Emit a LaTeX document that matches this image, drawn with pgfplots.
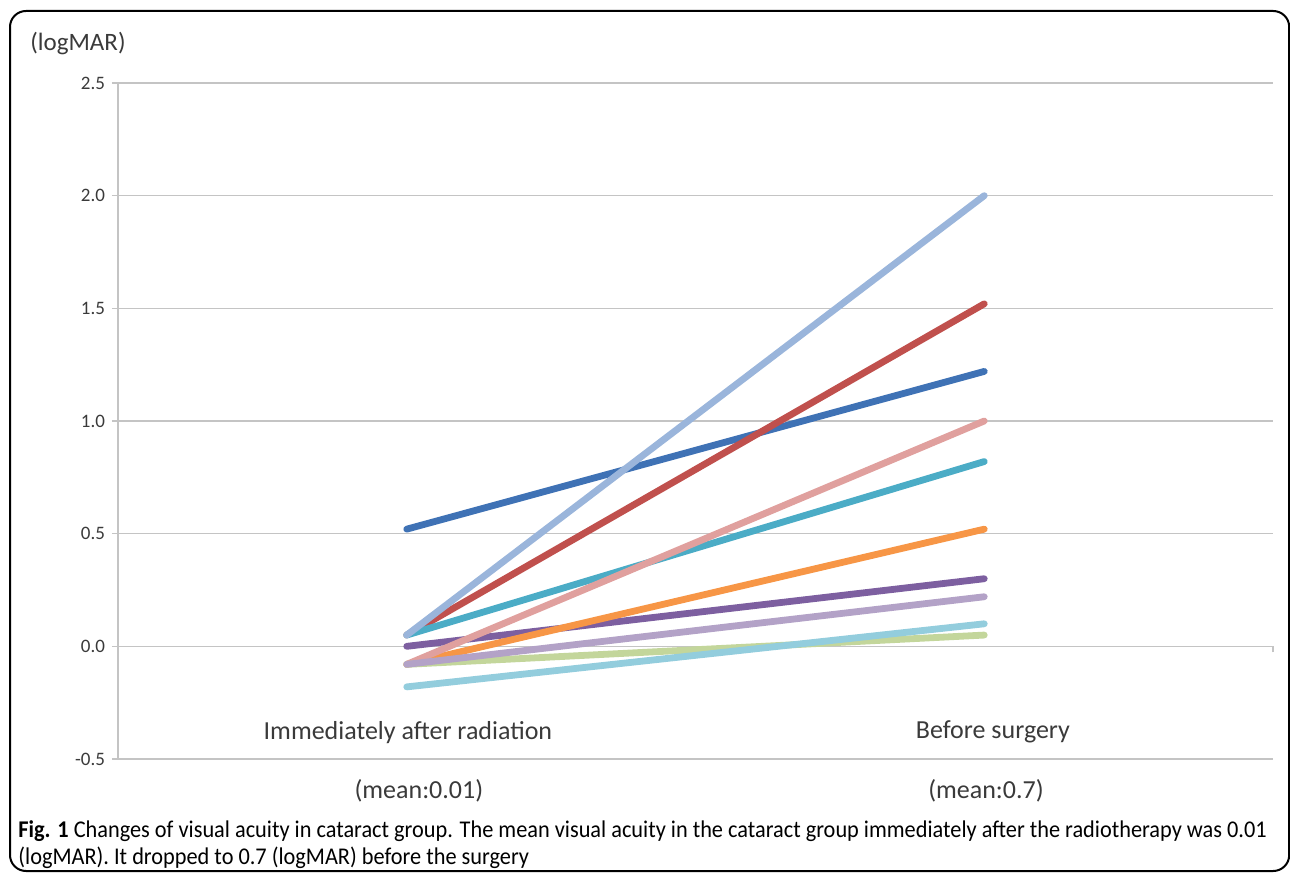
\documentclass[border=0pt]{standalone}
\usepackage{pgfplots}
\pgfplotsset{compat=1.18}
\usepackage{fontspec}
\setmainfont{Carlito}
\newfontfamily\capfont[FakeStretch=0.93]{Carlito}
\definecolor{cDarkBlue}{HTML}{3F72B5}
\definecolor{cRed}{HTML}{C0504D}
\definecolor{cPurple}{HTML}{7D5FA0}
\definecolor{cTeal}{HTML}{4BACC6}
\definecolor{cOrange}{HTML}{F79646}
\definecolor{cLightBlue}{HTML}{9AB5DB}
\definecolor{cPink}{HTML}{E0A09E}
\definecolor{cLavender}{HTML}{B3A2C7}
\definecolor{cCyan}{HTML}{93CDDD}
\definecolor{cGreen}{HTML}{C3D69B}
\definecolor{gridgray}{HTML}{C4C4C4}
\definecolor{labgray}{HTML}{3A3A3A}
\begin{document}
\begin{tikzpicture}[x=1pt,y=1pt]
\useasboundingbox (0,0) rectangle (645,436.5);
\draw[line width=1pt, rounded corners=8pt] (5,1) rectangle (644.6,431);
\node[font=\fontsize{12.5}{15}\selectfont, text=labgray] at (39,414.5) {(logMAR)};
\begin{axis}[
  at={(59pt,57pt)}, anchor=south west,
  scale only axis, width=577.5pt, height=338pt,
  xmin=0, xmax=4, ymin=-0.5, ymax=2.5,
  axis x line=middle, axis y line=left,
  axis line style={-, draw=gridgray, line width=0.7pt},
  every inner x axis line/.append style={-},
  every outer y axis line/.append style={-},
  ytick={-0.5,0,0.5,1,1.5,2,2.5},
  xtick={4}, xticklabels={},
  tick align=outside, major tick length=3pt,
  tick style={draw=gridgray, line width=0.7pt},
  ymajorgrids, major grid style={draw=gridgray, line width=0.7pt},
  yticklabel style={font=\fontsize{9.5}{11}\selectfont, text=labgray,
    /pgf/number format/.cd, fixed, fixed zerofill, precision=1, assume math mode=true},
  clip=false,
]
\addplot[cDarkBlue, line width=3.4pt, line cap=round] coordinates {(1,0.52) (3,1.22)};
\addplot[cRed, line width=3.4pt, line cap=round] coordinates {(1,0.05) (3,1.52)};
\addplot[cPurple, line width=3.4pt, line cap=round] coordinates {(1,0.0) (3,0.30)};
\addplot[cTeal, line width=3.4pt, line cap=round] coordinates {(1,0.05) (3,0.82)};
\addplot[cOrange, line width=3.4pt, line cap=round] coordinates {(1,-0.08) (3,0.52)};
\addplot[cLightBlue, line width=3.4pt, line cap=round] coordinates {(1,0.05) (3,2.0)};
\addplot[cPink, line width=3.4pt, line cap=round] coordinates {(1,-0.08) (3,1.0)};
\addplot[cGreen, line width=3.4pt, line cap=round] coordinates {(1,-0.08) (3,0.05)};
\addplot[cLavender, line width=3.4pt, line cap=round] coordinates {(1,-0.08) (3,0.22)};
\addplot[cCyan, line width=3.4pt, line cap=round] coordinates {(1,-0.18) (3,0.10)};
\node[font=\fontsize{13}{15}\selectfont, text=labgray] at (axis cs:1.004,-0.381) {Immediately after radiation};
\node[font=\fontsize{13}{15}\selectfont, text=labgray] at (axis cs:3.03,-0.381) {Before surgery};
\node[font=\fontsize{13}{15}\selectfont, text=labgray] at (axis cs:1.042,-0.643) {(mean:0.01)};
\node[font=\fontsize{13}{15}\selectfont, text=labgray] at (axis cs:3.006,-0.643) {(mean:0.7)};
\end{axis}
\node[anchor=base west, inner sep=0pt, font=\capfont\fontsize{12}{14}\selectfont] at (9,18) {\textbf{Fig. 1} Changes of visual acuity in cataract group. The mean visual acuity in the cataract group immediately after the radiotherapy was 0.01};
\node[anchor=base west, inner sep=0pt, font=\capfont\fontsize{12}{14}\selectfont] at (9,4.5) {(logMAR). It dropped to 0.7 (logMAR) before the surgery};
\end{tikzpicture}
\end{document}
